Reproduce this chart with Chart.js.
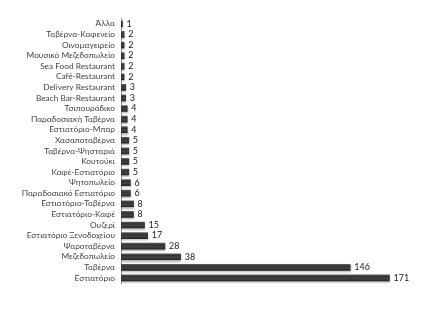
<!DOCTYPE html>
<html><head><meta charset="utf-8">
<script src="https://cdn.jsdelivr.net/npm/chart.js@4"></script>
<style>html,body{margin:0;padding:0;background:#fff}#w{width:441px;height:310px}</style>
</head><body><div id="w"><canvas id="c"></canvas></div>
<script>
const categories = ["Άλλα","Ταβέρνα-Καφενείο","Οινομαγειρείο","Μουσικό Μεζεδοπωλείο","Sea Food Restaurant","Café-Restaurant","Delivery Restaurant","Beach Bar-Restaurant","Τσιπουράδικο","Παραδοσιακή Ταβέρνα","Εστιατόριο-Μπαρ","Χασαποταβέρνα","Ταβέρνα-Ψησταριά","Κουτούκι","Καφέ-Εστιατόριο","Ψητοπωλείο","Παραδοσιακό Εστιατόριο","Εστιατόριο-Ταβέρνα","Εστιατόριο-Καφέ","Ουζερί","Εστιατόριο Ξενοδοχείου","Ψαροταβέρνα","Μεζεδοπωλείο","Ταβέρνα","Εστιατόριο"];
const counts = [1,2,2,2,2,2,3,3,4,4,4,5,5,5,5,6,6,8,8,15,17,28,38,146,171];

const valueLabels = {
  id:'valueLabels',
  afterDatasetsDraw(chart){
    const ctx = chart.ctx;
    const meta = chart.getDatasetMeta(0);
    ctx.save();
    ctx.font = '9px Lato';
    ctx.fillStyle = '#222';
    ctx.textBaseline = 'middle';
    ctx.textAlign = 'left';
    meta.data.forEach((bar,i)=>{
      ctx.fillText(String(counts[i]), bar.x + 4, bar.y);
    });
    ctx.restore();
  }
};
const shadow = {
  id:'shadow',
  beforeDatasetsDraw(chart){
    const ctx = chart.ctx; ctx.save();
    ctx.shadowColor='rgba(0,0,0,0.3)'; ctx.shadowBlur=2; ctx.shadowOffsetY=1.5;
  },
  afterDatasetsDraw(chart){ chart.ctx.restore(); }
};
function barFill(c){
  const chart=c.chart, ys=chart.scales && chart.scales.y;
  if(!ys || c.dataIndex===undefined || !isFinite(ys.getPixelForValue(c.dataIndex))) return '#3a3a3a';
  const y=ys.getPixelForValue(c.dataIndex);
  const g=chart.ctx.createLinearGradient(0,y-3,0,y+3);
  g.addColorStop(0,'#5a5a5a');
  g.addColorStop(0.3,'#303030');
  g.addColorStop(0.6,'#444444');
  g.addColorStop(1,'#262626');
  return g;
}

new Chart(document.getElementById('c'),{
  type:'bar',
  data:{labels:categories,datasets:[{data:counts,backgroundColor:barFill,borderWidth:0,barThickness:6}]},
  options:{
    indexAxis:'y',responsive:true,maintainAspectRatio:false,animation:false,
    layout:{padding:{top:18.5,bottom:26.8,left:0,right:6}},
    plugins:{legend:{display:false},tooltip:{enabled:false}},
    scales:{
      x:{display:false,min:0,max:200},
      y:{
        grid:{display:false,drawTicks:false},
        border:{display:true,color:'#9a9a9a',width:1},
        ticks:{font:{family:'Lato',size:8.3},color:'#444',padding:6,autoSkip:false},
        afterFit(s){s.width=121;}
      }
    }
  },
  plugins:[shadow,valueLabels]
});
</script></body></html>
